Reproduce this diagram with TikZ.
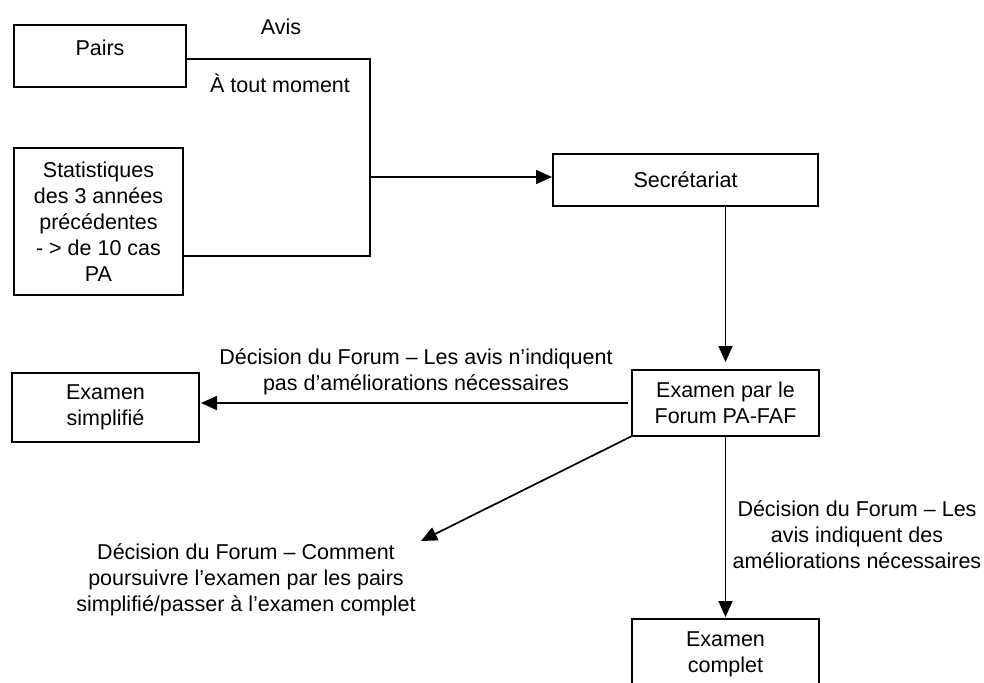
\documentclass[tikz,border=0pt]{standalone}
\usepackage{fontspec}
\setmainfont{Liberation Sans}
\usepackage{tikz}
\usetikzlibrary{arrows.meta, calc}

\begin{document}
\begin{tikzpicture}[% styles used in image code
 x = 0.5pt, y = -0.5pt,
         > = {Triangle[length=8pt,width=7pt]}, % defined in "arrows.meta
every node/.style = {font=\fontsize{10.75}{13}\selectfont, align=center},
box/.style = {draw, line width=0.9pt, inner sep=0pt, outer sep=0pt},
link/.style = {line width=0.85pt},
                    ]
	\useasboundingbox (0,0) rectangle (984,682);
	\clip (0,0) rectangle (984,682);

	% boxes
	\node[box, minimum width=86pt, minimum height=31pt, text depth=8pt] (pairs) at (100,56) {Pairs};
	\node[box, minimum width=84.5pt, minimum height=73.5pt] (stats) at (98.5,221.5)
		{Statistiques\\des 3 années\\précédentes\\- > de 10 cas\\PA};
	\node[box, minimum width=132.5pt, minimum height=26pt] (secr) at (685.5,180) {Secrétariat};
	\node[box, minimum width=93.5pt, minimum height=33pt] (forum) at (725.5,403) {Examen par le\\Forum PA-FAF};
	\node[box, minimum width=93.5pt, minimum height=34.5pt] (simple) at (105.5,407.5) {Examen\\simplifié};
	\node[box, minimum width=93.5pt, minimum height=35.5pt] (full) at (725.5,654.5) {Examen\\complet};

	% labels
	\node (avis) at (281,27) {Avis};
	\node (moment) at (280,83) {À tout moment};
	\node (lblsimple) at (416,371.5) {Décision du Forum – Les avis n’indiquent\\pas d’améliorations nécessaires};
	\node (lblcmt) at (246,580) {Décision du Forum – Comment\\poursuivre l’examen par les pairs\\simplifié/passer à l’examen complet};
	\node (lblfull) at (857,535) {Décision du Forum – Les\\avis indiquent des\\améliorations nécessaires};

	% connectors
	\coordinate (top) at (370,59);
	\coordinate (bot) at (370,256);
	\coordinate (junc) at (370,177);
	\coordinate (cmt) at (421,541);
	\draw[link] (pairs.east |- top) -- (top) -- (bot) -- (stats.east |- bot);
	\draw[link,->,shorten >=0.5pt] (junc) -- (secr.west |- junc);
	\draw[link,->,shorten >=4pt] (secr.south -| forum.north) -- (forum.north);
	\draw[link,->,shorten <=2pt,shorten >=1pt] (forum.west) -- (forum.west -| simple.east);
	\draw[link,->] (forum.south west) -- (cmt);
	\draw[link,->,shorten >=1pt] (forum.south) -- (full.north);
\end{tikzpicture}
\end{document}
